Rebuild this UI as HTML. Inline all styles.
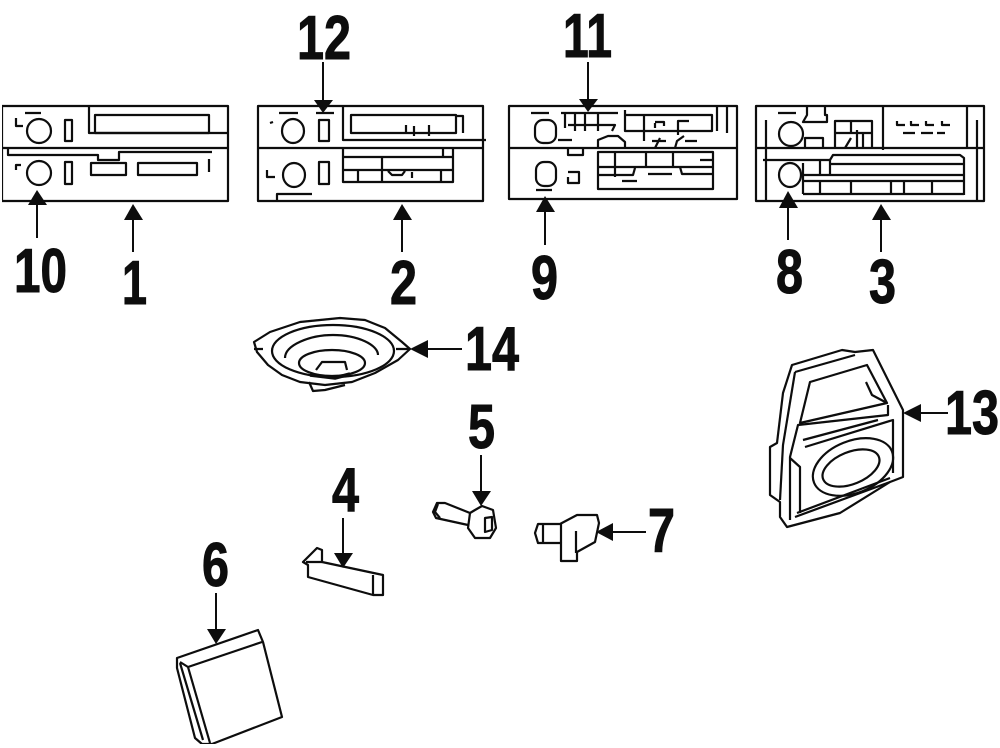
<!DOCTYPE html>
<html><head><meta charset="utf-8"><style>
html,body{margin:0;padding:0;background:#fff}
svg{display:block}
text{font-family:"Liberation Sans",sans-serif;font-weight:bold;font-size:62px;fill:#111;stroke:#111;stroke-width:1px}
.l{fill:none;stroke:#0a0a0a;stroke-width:2.2;stroke-linejoin:round}
.a{fill:#0a0a0a;stroke:none}
</style></head><body>
<svg width="1000" height="748" viewBox="0 0 1000 748" xmlns="http://www.w3.org/2000/svg">
<g filter="url(#b)">
<defs><filter id="b" x="0" y="0" width="100%" height="100%"><feGaussianBlur stdDeviation="0.35"/></filter></defs>

<!-- labels -->
<text x="297" y="59" textLength="54" lengthAdjust="spacingAndGlyphs">12</text>
<text x="563" y="57" textLength="49" lengthAdjust="spacingAndGlyphs">11</text>
<text x="14" y="292" textLength="53" lengthAdjust="spacingAndGlyphs">10</text>
<text x="122" y="304" textLength="25" lengthAdjust="spacingAndGlyphs">1</text>
<text x="390" y="304" textLength="27" lengthAdjust="spacingAndGlyphs">2</text>
<text x="531" y="299" textLength="27" lengthAdjust="spacingAndGlyphs">9</text>
<text x="776" y="293" textLength="27" lengthAdjust="spacingAndGlyphs">8</text>
<text x="869" y="303" textLength="27" lengthAdjust="spacingAndGlyphs">3</text>
<text x="465" y="370" textLength="54" lengthAdjust="spacingAndGlyphs">14</text>
<text x="945" y="434" textLength="54" lengthAdjust="spacingAndGlyphs">13</text>
<text x="468" y="448" textLength="27" lengthAdjust="spacingAndGlyphs">5</text>
<text x="332" y="511" textLength="27" lengthAdjust="spacingAndGlyphs">4</text>
<text x="648" y="552" textLength="27" lengthAdjust="spacingAndGlyphs">7</text>
<text x="202" y="586" textLength="27" lengthAdjust="spacingAndGlyphs">6</text>

<!-- arrows -->
<g class="l" style="stroke-width:2">
<path d="M323 62V102M588 62V102M37 200V238M133 215V252M402 215V252M545 205V245M788 200V240M881 215V252M425 349H462M918 413H948M481 455V495M343 518V556M608 532H646M216 593V632"/>
</g>
<g class="a">
<path d="M314 100H333L323 113Z"/>
<path d="M579 99H598L588 112Z"/>
<path d="M28 205H47L37 190Z"/>
<path d="M124 220H143L133 204Z"/>
<path d="M393 220H412L402 204Z"/>
<path d="M536 212H555L545 196Z"/>
<path d="M779 208H798L788 191Z"/>
<path d="M872 220H891L881 204Z"/>
<path d="M428 340V358L410 349Z"/>
<path d="M921 404V422L903 413Z"/>
<path d="M472 491H491L481 506Z"/>
<path d="M334 553H353L343 568Z"/>
<path d="M613 523V541L596 532Z"/>
<path d="M207 629H226L216 644Z"/>
</g>

<!-- radio 1 -->
<g class="l">
<rect x="2" y="106" width="226" height="95"/>
<path d="M2 148H228M25 113H41M16 118V126H23M89 106V133H228"/>
<rect x="95" y="115" width="114" height="18"/>
<circle cx="39" cy="131" r="12"/>
<rect x="65" y="120" width="7" height="21"/>
<path d="M8 148V155H98V160H119V152H212M209 159V172M16 170V165H21"/>
<circle cx="39" cy="173" r="12"/>
<rect x="65" y="162" width="7" height="22"/>
<rect x="91" y="163" width="35" height="12"/>
<rect x="138" y="163" width="59" height="12"/>
</g>

<!-- radio 2 -->
<g class="l">
<rect x="258" y="106" width="225" height="95"/>
<path d="M258 148H483M279 113H298M316 113H334M343 106V140H486M456 116H463V133M406 125V133M414 126V136M429 125V136M270 123L273 122"/>
<rect x="351" y="115" width="105" height="18"/>
<ellipse cx="293" cy="131" rx="11" ry="12"/>
<rect x="319" y="120" width="10" height="21"/>
<ellipse cx="294" cy="175" rx="11" ry="12"/>
<rect x="319" y="162" width="10" height="22"/>
<path d="M267 170V177H275M343 148V182H453V148M343 157H453M343 170H453M358 170V182M382 157V182M441 170V182M443 148V157M412 172V178M388 171L392 175H402L405 171M277 201V194H312"/>
</g>

<!-- radio 3 -->
<g class="l">
<rect x="509" y="106" width="228" height="93"/>
<path d="M509 148H737M531 113H549M561 113H618M565 113V128M575 113V131M585 113V131M598 113V131M568 125H615L612 131M625 110V131H712V115H625M717 106V131M727 106V133M644 116V141M558 140H572"/>
<rect x="535" y="120" width="21" height="23" rx="8"/>
<path d="M598 148V140L608 136H618L625 142V148M655 123V128M655 122H664V126M678 135V121H689M675 148L677 141L684 136M655 148L660 138M652 141H666M685 141H697"/>
<rect x="536" y="162" width="20" height="24" rx="8"/>
<path d="M536 190H552M568 148V155H583V148M568 172H579V183H568V177"/>
<rect x="598" y="152" width="115" height="37"/>
<path d="M615 152V177M646 152V167M673 152V167M598 167H713M598 175H633L635 168M680 167L682 174H713M648 174H672M622 181H637M700 160H712"/>
</g>

<!-- radio 4 -->
<g class="l">
<rect x="756" y="106" width="228" height="95"/>
<path d="M756 148H984M883 106V150M967 106V148M977 120V201M766 120V201M778 113H796"/>
<circle cx="791" cy="134" r="12"/>
<path d="M807 106V115L803 122H827V115H825V106M805 148V138H823V148"/>
<path d="M835 148V121H872V148M835 133H872M851 121V133M845 148L851 138M857 130V148M863 133V148"/>
<path d="M897 121V125H905M911 121V125H919M926 121V125H934M942 121V125H950M903 133H915M921 133H933M937 133H945"/>
<path d="M763 160H830L833 155H960L964 158V195M830 160V175M830 164H964M803 175H964M803 181H964M803 194H964M803 163V194M820 160V175M820 181V194M851 181V194M891 181V194M904 181V194M932 181V194"/>
<ellipse cx="790" cy="175" rx="11" ry="12"/>
</g>

<!-- speaker 14 -->
<g class="l">
<path d="M254 342L270 332L300 322L340 318L365 320L385 328L402 342L410 349L398 360L375 373L352 382L325 385L300 382L282 375L268 365L257 352Z"/>
<path d="M254 349H263M396 349H410"/>
<path d="M309 382L313 391L325 390L345 385"/>
<ellipse cx="333" cy="351" rx="61" ry="26"/>
<path d="M285 358C285 345 310 335 333 335C358 335 378 345 378 355"/>
<ellipse cx="332" cy="363" rx="33" ry="13"/>
<path d="M316 370L322 362H345L347 370"/>
<path d="M310 375L335 378L350 374" stroke-width="3.5"/>
</g>

<!-- door 13 -->
<g class="l">
<path d="M792 365L842 350L855 352L873 350L903 410V477L890 482L840 513L787 527L780 517V502L770 495V447L777 443L783 393Z"/>
<path d="M795 372L855 355"/>
<path d="M795 372L783 445L780 500"/>
<path d="M810 382L867 365L887 403L800 423Z"/>
<path d="M866 382L872 395L887 403"/>
<path d="M888 405V415L798 425L790 457V520"/>
<path d="M803 440L878 420M805 447L893 420V473"/>
<path d="M790 458L800 467V513"/>
<path d="M795 517L890 482M797 513L890 478"/>
<ellipse cx="853" cy="467" rx="42" ry="26" transform="rotate(-22 853 467)"/>
<ellipse cx="851" cy="468" rx="30" ry="16" transform="rotate(-22 851 468)"/>
</g>

<!-- bolt 5 -->
<g class="l">
<path d="M470 513L445 503H437L433 512L436 518L468 525"/>
<path d="M438 504L435 512L440 518"/>
<path d="M475 510L482 506L493 510L496 528L490 538L475 538L468 528L470 513Z"/>
<path d="M485 518L492 517V530L485 532Z"/>
</g>

<!-- clip 7 -->
<g class="l">
<path d="M535 533L538 524H560L577 515H597L599 523L595 542L577 552V561H561V543H538Z"/>
<path d="M543 523V543M561 523V543M576 531V553"/>
</g>

<!-- trim 4 -->
<g class="l">
<path d="M303 562L317 548L322 550V562L383 575V595H373L308 577V565Z"/>
<path d="M306 562H322M373 575V595"/>
</g>

<!-- panel 6 -->
<g class="l">
<path d="M177 658L258 630L263 642L282 717L212 744H202L195 738L177 668Z"/>
<path d="M180 662L188 667L262 642M188 667L210 743M180 663L203 740"/>
</g>
</g>
</svg>
</body></html>
